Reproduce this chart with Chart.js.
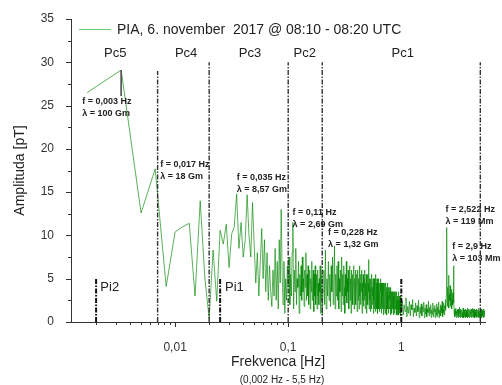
<!DOCTYPE html>
<html>
<head>
<meta charset="utf-8">
<script src="https://cdn.jsdelivr.net/npm/chart.js@4.4.1/dist/chart.umd.min.js"></script>
<style>
  body { margin: 0; background: #fff; }
</style>
</head>
<body>
<canvas id="spectrumChart" width="502" height="385"></canvas>
<script>
// frequency resolution of the 10 min window (1/600 Hz)
var BIN = 1 / 600;

// amplitudes [pT] for bins 1..120 (0.00167 Hz .. 0.2 Hz)
var lowAmp = [
  26.5, 29.1, 12.6, 17.7, 4.1, 10.4, 11.0, 11.4, 3.0, 14.0,
  5.0, 0.4, 8.3, 2.4, 10.6, 9.0, 11.3, 6.3, 10.2, 11.0,
  14.8, 8.5, 11.5, 7.5, 9.5, 14.7, 10.0, 7.5, 13.8, 9.0,
  4.5, 8.0, 3.0, 7.0, 10.8, 5.0, 9.5, 3.5, 8.0, 2.5,
  6.5, 3.5, 1.8, 6.0, 3.0, 8.5, 2.5, 7.0, 1.5, 9.5,
  4.5, 13.0, 6.0, 2.0, 7.0, 1.0, 5.0, 2.5, 6.5, 4.0,
  7.5, 2.0, 5.5, 3.0, 8.0, 11.5, 1.5, 6.0, 3.5, 8.5,
  2.0, 5.0, 4.0, 7.0, 1.0, 5.5, 3.0, 6.5, 2.5, 7.5,
  3.5, 5.0, 1.8, 6.0, 4.0, 8.0, 2.5, 5.5, 3.0, 6.5,
  2.0, 4.5, 6.0, 1.5, 5.0, 3.5, 7.0, 2.5, 4.5, 6.0,
  1.2, 5.5, 3.0, 6.5, 2.0, 4.0, 5.5, 1.5, 6.0, 3.0,
  4.5, 2.0, 5.0, 3.5, 6.5, 1.0, 4.0, 2.5, 5.5, 0.8
];

// amplitudes [pT] from 0.2033 Hz to 1.0 Hz, every second bin (1/300 Hz)
var bandAmp = [
  3.5, 6.0, 2.0, 8.3, 1.5, 5.0, 3.0, 7.0, 2.5, 5.5,
  1.8, 6.5, 3.5, 7.5, 2.0, 4.5, 8.8, 1.5, 5.5, 3.0,
  6.5, 2.5, 7.0, 1.5, 5.0, 3.5, 6.0, 1.2, 7.5, 3.0,
  5.5, 2.0, 6.5, 4.0, 1.0, 5.5, 3.0, 7.0, 2.2, 5.0,
  3.5, 6.0, 1.5, 4.5, 6.5, 2.5, 5.0, 1.0, 6.0, 3.5,
  5.5, 2.0, 4.5, 6.5, 1.5, 5.0, 3.0, 6.0, 2.0, 4.5,
  5.5, 1.2, 4.0, 6.0, 2.5, 5.0, 1.5, 6.5, 3.0, 4.5,
  2.0, 5.5, 3.5, 6.0, 1.0, 4.5, 2.5, 5.5, 1.8, 4.0,
  5.0, 2.5, 6.0, 1.5, 4.5, 3.0, 5.5, 1.0, 4.0, 2.5,
  5.5, 2.0, 4.5, 3.5, 7.2, 1.5, 5.0, 2.5, 4.0, 1.2,
  5.0, 3.0, 4.5, 1.5, 5.5, 2.0, 4.0, 3.0, 5.0, 1.0,
  4.5, 2.5, 5.0, 1.5, 4.0, 3.5, 5.5, 1.2, 4.0, 2.0,
  4.5, 1.5, 5.0, 3.0, 4.0, 1.0, 4.5, 2.5, 5.0, 1.5,
  3.5, 4.5, 1.2, 4.0, 2.5, 5.0, 1.5, 3.5, 4.5, 1.0,
  4.0, 2.0, 4.5, 1.5, 3.5, 3.0, 4.5, 0.8, 4.0, 2.0,
  3.5, 1.5, 4.5, 2.5, 3.5, 1.0, 4.0, 2.0, 4.5, 1.2,
  3.5, 2.5, 4.0, 0.8, 3.5, 2.0, 4.5, 1.5, 3.0, 2.5,
  4.0, 1.0, 3.5, 2.0, 4.0, 1.5, 3.0, 2.5, 3.5, 0.8,
  3.5, 2.0, 4.0, 1.2, 3.0, 2.5, 3.5, 1.0, 3.5, 2.0,
  3.0, 1.5, 3.5, 2.5, 3.0, 0.8, 3.5, 1.5, 3.0, 2.0,
  3.5, 1.0, 3.0, 2.0, 3.5, 1.5, 2.5, 2.0, 3.5, 0.8,
  3.0, 1.5, 3.5, 1.0, 2.5, 2.0, 3.0, 0.8, 3.0, 1.5,
  2.5, 1.0, 3.0, 2.0, 3.5, 0.8, 2.5, 1.5, 3.0, 1.0,
  2.5, 1.5, 3.0, 0.7, 2.5, 2.0, 3.0, 1.0, 2.5, 1.2
];

// amplitudes [pT] from 1.02 Hz to 5.5 Hz, every 0.02 Hz
var highAmp = [
  2.5, 0.8, 2.0, 1.2, 2.8, 0.6, 1.8, 1.0, 2.4, 0.7,
  2.0, 1.4, 2.6, 0.6, 1.6, 1.1, 2.2, 0.7, 1.9, 1.2,
  2.5, 0.5, 1.7, 1.0, 2.1,
  0.7, 1.8, 1.2, 2.3, 0.5, 1.6, 0.9, 2.0, 0.6, 1.5,
  1.1, 2.4, 0.7, 1.7, 1.0, 2.0, 0.5, 1.4, 0.9, 2.2,
  0.6, 1.6, 1.2, 1.9, 0.5,
  1.5, 0.8, 2.1, 0.6, 1.7, 1.0, 2.3, 0.5, 1.4, 0.9,
  2.0, 0.7, 1.8, 1.1, 2.4, 0.6, 1.5, 1.0, 2.2, 0.8,
  1.9, 1.3, 2.6, 1.5, 3.0,
  10.9,
  3.5, 1.8, 4.0, 2.2, 5.4, 1.6, 3.2, 2.5, 4.2, 1.8,
  3.0, 2.2, 3.8, 1.5, 2.6, 3.3, 2.0, 3.5,
  6.5,
  2.2, 0.9, 1.5, 0.6, 1.3, 0.8, 1.6, 0.5, 1.2, 0.9,
  1.4, 0.6, 1.1, 1.5, 0.5, 1.3, 0.8, 1.7, 0.6, 1.0,
  1.3, 0.5, 1.5, 0.8, 1.2, 0.6, 1.4, 0.9, 1.1, 0.5,
  1.6, 0.7, 1.2, 0.5, 1.4, 1.0, 0.6, 1.3, 0.8, 1.5,
  0.5, 1.1, 0.9, 1.4, 0.6, 1.2, 0.7, 1.6, 0.5, 1.0,
  1.3, 0.6, 1.5, 0.8, 1.1, 0.5, 1.4, 0.9, 1.2, 0.6,
  1.0, 1.5, 0.5, 1.3, 0.7, 1.2, 0.9, 1.6, 0.6, 1.1,
  1.4, 0.5, 1.2, 0.8, 1.5, 0.6, 1.0, 1.3, 0.5, 1.2,
  0.8, 1.4, 0.6, 1.1, 0.9, 1.5, 0.5, 1.2, 0.7, 1.3,
  0.6, 1.0, 1.4, 0.5, 1.2, 0.8, 1.6, 0.6, 1.1, 0.9,
  1.3, 0.5, 1.2, 0.7, 1.4, 0.9, 1.1, 0.6, 1.5, 0.8,
  1.0, 1.3, 0.5, 1.2, 0.8, 1.4, 0.6, 1.1, 0.9, 1.3,
  0.5, 1.2, 0.8, 1.5, 0.6, 1.0, 1.3, 0.7, 1.1, 0.9
];

// band boundaries (dash-dot lines) and their heights [pT]
var guideFreq = [0.002, 0.007, 0.02, 0.025, 0.1, 0.2, 1, 5];
var guideTop = [5, 29, 30, 5, 30, 30, 5, 30];

// band names, placed at (freq, amplitude)
var bandNames = ['Pc5', 'Pc4', 'Pc3', 'Pc2', 'Pc1'];
var bandFreq = [0.00295, 0.0125, 0.046, 0.14, 1.03];
var piNames = ['Pi2', 'Pi1'];
var piFreq = [0.00218, 0.0276];

// peak notes: left edge frequency, amplitude of first line
var noteF = ['f = 0,003 Hz', 'f = 0,017 Hz', 'f = 0,035 Hz', 'f = 0,11 Hz', 'f = 0,228 Hz', 'f = 2,522 Hz', 'f = 2,9 Hz'];
var noteL = ['\u03bb = 100 Gm', '\u03bb = 18 Gm', '\u03bb = 8,57 Gm', '\u03bb = 2,69 Gm', '\u03bb = 1,32 Gm', '\u03bb = 119 Mm', '\u03bb = 103 Mm'];
var noteX = [0.00151, 0.00737, 0.0350, 0.1094, 0.2254, 2.466, 2.825];
var noteY = [25.5, 18.2, 16.7, 12.65, 10.35, 12.97, 8.73];

// log axis ticks and which of them carry a label
var xTicks = [0.002, 0.003, 0.004, 0.005, 0.006, 0.007, 0.008, 0.009,
  0.01, 0.02, 0.03, 0.04, 0.05, 0.06, 0.07, 0.08, 0.09,
  0.1, 0.2, 0.3, 0.4, 0.5, 0.6, 0.7, 0.8, 0.9,
  1, 2, 3, 4, 5];
var xLabels = {'0.01': '0,01', '0.1': '0,1', '1': '1'};

var FONT = 'Liberation Sans, Arial, sans-serif';
Chart.defaults.font.family = FONT;

// build the spectrum points from the bin grid
var spectrum = [];
lowAmp.forEach(function (a, i) { spectrum.push({x: (i + 1) * BIN, y: a}); });
bandAmp.forEach(function (a, i) { spectrum.push({x: 0.2 + (i + 1) * 2 * BIN, y: a}); });
highAmp.forEach(function (a, i) { spectrum.push({x: 1 + (i + 1) * 0.02, y: a}); });

var datasets = [{
  label: 'PIA, 6. november  2017 @ 08:10 - 08:20 UTC',
  data: spectrum,
  borderColor: 'rgb(0,135,0)',
  borderWidth: 0.65,
  pointRadius: 0,
  order: 2
}];

// dash-dot band boundaries
guideFreq.forEach(function (f, i) {
  var pi = guideTop[i] < 10;
  datasets.push({
    data: [{x: f, y: 0}, {x: f, y: guideTop[i]}],
    borderColor: pi ? '#111' : '#333',
    borderWidth: pi ? 2 : 1.4,
    borderDash: [5, 1.5, 1.5, 1.5],
    pointRadius: 0,
    order: 1
  });
});

// little marker from the Pc5 peak down to its note
datasets.push({
  data: [{x: 2 * BIN, y: lowAmp[1]}, {x: 2 * BIN, y: 26.1}],
  borderColor: '#555',
  borderWidth: 1,
  pointRadius: 0,
  order: 1
});

var decorPlugin = {
  id: 'decor',
  afterDraw: function (chart) {
    var ctx = chart.ctx;
    var xs = chart.scales.x, ys = chart.scales.y;
    var area = chart.chartArea;
    ctx.save();

    // tick marks, major longer than minor
    ctx.strokeStyle = '#333';
    ctx.lineWidth = 1;
    xTicks.forEach(function (v) {
      var px = Math.round(xs.getPixelForValue(v)) + 0.5;
      var len = xLabels[String(v)] ? 5 : 3;
      ctx.beginPath();
      ctx.moveTo(px, area.bottom);
      ctx.lineTo(px, area.bottom + len);
      ctx.stroke();
    });
    for (var v = 0; v <= 35; v += 2.5) {
      var py = Math.round(ys.getPixelForValue(v)) + 0.5;
      var len = v % 5 === 0 ? 5 : 3;
      ctx.beginPath();
      ctx.moveTo(area.left, py);
      ctx.lineTo(area.left - len, py);
      ctx.stroke();
    }

    // legend
    ctx.strokeStyle = 'rgb(110,200,110)';
    ctx.lineWidth = 1;
    ctx.beginPath();
    ctx.moveTo(area.left + 8, 29.5);
    ctx.lineTo(area.left + 40, 29.5);
    ctx.stroke();
    ctx.fillStyle = '#222';
    ctx.font = '14px ' + FONT;
    ctx.textBaseline = 'middle';
    ctx.textAlign = 'left';
    ctx.fillText(chart.data.datasets[0].label, area.left + 46, 30);

    // band names
    ctx.font = '13px ' + FONT;
    ctx.textAlign = 'center';
    bandNames.forEach(function (n, i) {
      ctx.fillText(n, xs.getPixelForValue(bandFreq[i]), ys.getPixelForValue(31));
    });
    ctx.textAlign = 'left';
    piNames.forEach(function (n, i) {
      ctx.fillText(n, xs.getPixelForValue(piFreq[i]), ys.getPixelForValue(4));
    });

    // peak notes
    ctx.font = 'bold 9px ' + FONT;
    noteF.forEach(function (t, i) {
      var px = xs.getPixelForValue(noteX[i]);
      var py = ys.getPixelForValue(noteY[i]);
      ctx.fillText(t, px, py);
      ctx.fillText(noteL[i], px, py + 12);
    });

    // axis titles
    ctx.fillStyle = '#222';
    ctx.textAlign = 'center';
    ctx.font = '14px ' + FONT;
    var cx = (area.left + area.right) / 2;
    ctx.fillText('Frekvenca [Hz]', cx, area.bottom + 40);
    ctx.font = '10px ' + FONT;
    ctx.fillText('(0,002 Hz - 5,5 Hz)', cx + 4, area.bottom + 58);
    ctx.translate(20, (area.top + area.bottom) / 2);
    ctx.rotate(-Math.PI / 2);
    ctx.font = '14px ' + FONT;
    ctx.fillText('Amplituda [pT]', 0, 0);
    ctx.restore();
  }
};

new Chart(document.getElementById('spectrumChart'), {
  type: 'line',
  data: {datasets: datasets},
  options: {
    responsive: false,
    animation: false,
    layout: {padding: {top: 19, right: 17, left: 0, bottom: 0}},
    plugins: {legend: {display: false}, tooltip: {enabled: false}},
    elements: {line: {tension: 0}},
    scales: {
      x: {
        type: 'logarithmic',
        min: 0.0012,
        max: 5.5,
        afterBuildTicks: function (scale) {
          scale.ticks = xTicks.map(function (v) { return {value: v}; });
        },
        afterFit: function (scale) { scale.height = 63; },
        grid: {display: false},
        border: {display: true, color: '#333', width: 1},
        ticks: {
          autoSkip: false,
          maxRotation: 0,
          padding: 10,
          color: '#333',
          font: {size: 12},
          callback: function (v) { return xLabels[String(v)] || ''; }
        }
      },
      y: {
        min: 0,
        max: 35,
        afterFit: function (scale) { scale.width = 71; },
        grid: {display: false},
        border: {display: true, color: '#333', width: 1},
        ticks: {
          stepSize: 2.5,
          padding: 9,
          color: '#333',
          font: {size: 12},
          callback: function (v) { return v % 5 === 0 ? v : ''; }
        }
      }
    }
  },
  plugins: [decorPlugin]
});
</script>
</body>
</html>
